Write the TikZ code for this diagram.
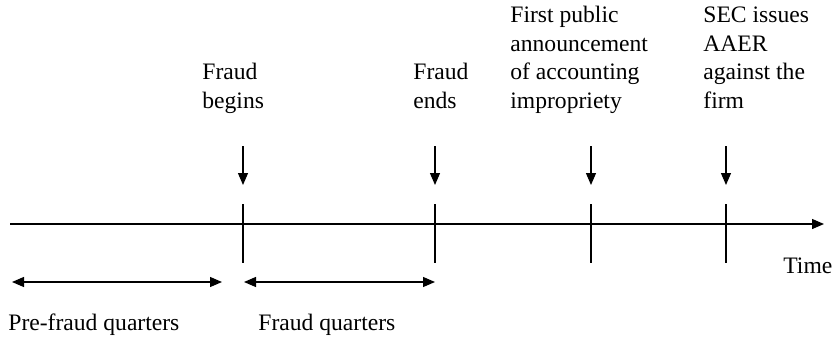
\documentclass[tikz,border=0pt]{standalone}
\usepackage{fontspec}
\setmainfont{Liberation Serif}
\usetikzlibrary{arrows.meta,positioning}
\begin{document}
\begin{tikzpicture}[
  x=0.5pt, y=-0.5pt,
  font=\fontsize{11.8pt}{14.25pt}\selectfont,
  axisline/.style={-{Triangle[length=6pt,width=5pt]}, line width=0.65pt},
  tickmark/.style={line width=0.6pt},
  pointer/.style={-{Triangle[length=6pt,width=5pt]}, line width=0.6pt},
  period/.style={{Triangle[length=6pt,width=5pt]}-{Triangle[length=6pt,width=5pt]}, line width=0.6pt},
  evt/.style={anchor=base west, align=left, inner sep=0pt},
  lbl/.style={anchor=base west, inner sep=0pt},
]
\useasboundingbox (0,0) rectangle (832,339);

% Time axis
\coordinate (t0) at (10,224);
\coordinate (t1) at (824,224);
\draw[axisline] (t0) -- (t1);
\node[lbl] (time) at (783,273) {Time};

% Event ticks and pointers
\foreach \n/\x in {begin/243, end/435, ann/591, aaer/726} {
  \coordinate (\n top) at (\x,204);
  \coordinate (\n bot) at (\x,263);
  \draw[tickmark] (\n top) -- (\n bot);
  \coordinate (\n from) at (\x,146);
  \coordinate (\n to) at (\x,185);
  \draw[pointer] (\n from) -- (\n to);
}

% Event labels (base = last line)
\node[evt] (lbegin) at (202,108) {Fraud\\begins};
\node[evt] (lend)   at (413,108) {Fraud\\ends};
\node[evt] (lann)   at (510,108) {First public\\announcement\\of accounting\\impropriety};
\node[evt] (laaer)  at (703,108) {SEC issues\\AAER\\against the\\firm};

% Periods below the axis
\coordinate (p0) at (12,282);
\coordinate (p1) at (222,282);
\coordinate (p2) at (244,282);
\coordinate (p3) at (435,282);
\draw[period] (p0) -- (p1);
\draw[period] (p2) -- (p3);
\node[lbl] (lpre)   at (8,330)   {Pre-fraud quarters};
\node[lbl] (lfraud) at (258,330) {Fraud quarters};

\end{tikzpicture}
\end{document}
